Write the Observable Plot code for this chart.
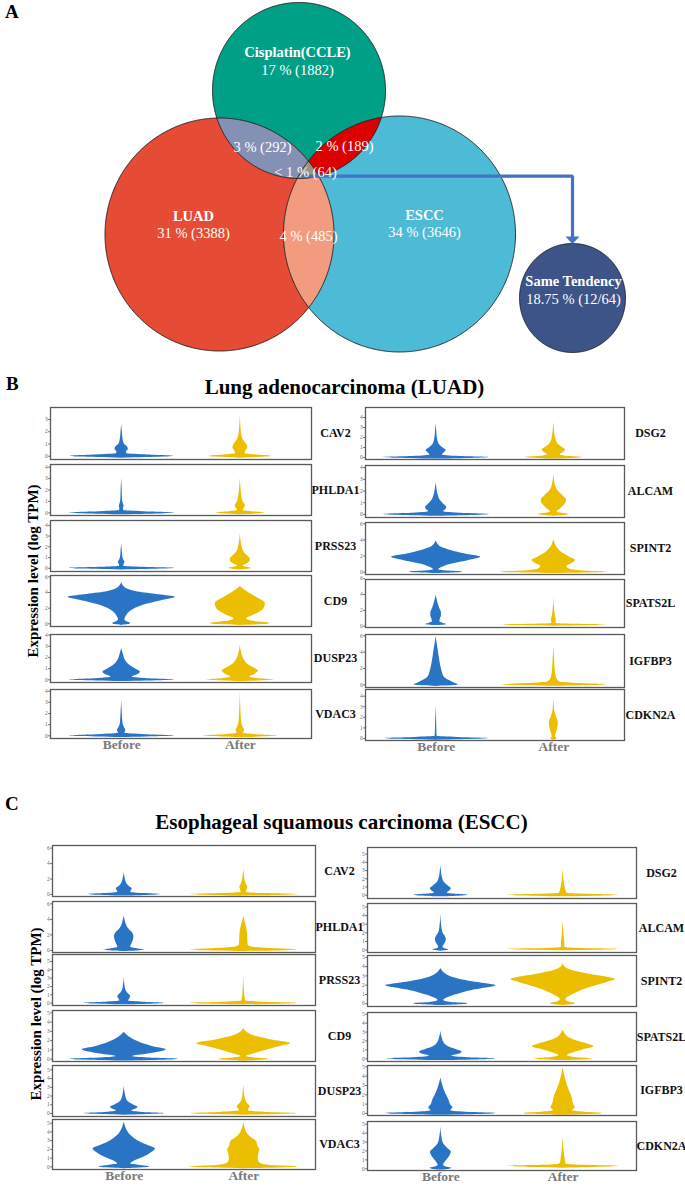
<!DOCTYPE html>
<html><head><meta charset="utf-8">
<script src="https://cdn.jsdelivr.net/npm/d3@7"></script>
<script src="https://cdn.jsdelivr.net/npm/@observablehq/plot@0.6"></script>
<style>
body{margin:0;background:#fff;}
#root{position:relative;width:685px;height:1188px;overflow:hidden;font-family:"Liberation Serif","Times New Roman",serif;color:#000;}
.abs{position:absolute;}
.letter{font-weight:bold;font-size:19px;line-height:19px;}
.title{font-weight:bold;font-size:21px;line-height:21px;width:685px;text-align:center;left:0;}
.ylab{font-weight:bold;font-size:15px;line-height:16px;width:260px;text-align:center;white-space:nowrap;transform:rotate(-90deg);}
svg{overflow:visible;}
</style></head><body><div id="root"></div>
<script>
// ---------------- DATA ----------------
const vennNames = ["Cisplatin(CCLE)", "LUAD", "ESCC"];
const vennShares = ["17 % (1882)", "31 % (3388)", "34 % (3646)"];
const overlapShares = ["3 % (292)", "2 % (189)", "4 % (485)", "< 1 % (64)"];
const tendencyName = "Same Tendency";
const tendencyShare = "18.75 % (12/64)";

const groups = ["Before", "After"];
const genesLeft = ["CAV2", "PHLDA1", "PRSS23", "CD9", "DUSP23", "VDAC3"];
const genesRight = ["DSG2", "ALCAM", "SPINT2", "SPATS2L", "IGFBP3", "CDKN2A"];
const luadTitle = "Lung adenocarcinoma (LUAD)";
const esccTitle = "Esophageal squamous carcinoma (ESCC)";
const yTitle = "Expression level (log TPM)";

// violin profiles: [expression, relative density width], genes in order genesLeft then genesRight
const luadBefore = [
 [[-0.16,0],[-0.07,0.78],[0,0.97],[0.1,0.5],[0.2,0.1],[0.35,0.09],[0.55,0.125],[0.75,0.11],[1.0,0.05],[1.4,0.025],[2.0,0.012],[2.6,0]],
 [[-0.16,0],[-0.07,0.8],[0,1.0],[0.1,0.4],[0.2,0.04],[0.4,0.035],[0.6,0.045],[0.8,0.03],[1.2,0.015],[2.0,0.01],[3.0,0]],
 [[-0.16,0],[-0.07,0.8],[0,1.0],[0.1,0.4],[0.2,0.04],[0.35,0.045],[0.55,0.063],[0.75,0.04],[1.1,0.02],[1.7,0.01],[2.3,0]],
 [[-0.2,0],[-0.1,0.12],[0.05,0.17],[0.2,0.12],[0.5,0.06],[1.0,0.09],[1.7,0.19],[2.3,0.38],[3.0,0.78],[3.4,1.0],[3.7,0.7],[4.05,0.3],[4.4,0.12],[4.7,0.05],[5.3,0]],
 [[-0.16,0],[-0.07,0.8],[0,1.0],[0.1,0.5],[0.25,0.2],[0.45,0.3],[0.7,0.35],[0.95,0.27],[1.3,0.15],[1.75,0.07],[2.2,0.035],[2.8,0]],
 [[-0.16,0],[-0.07,0.8],[0,1.0],[0.1,0.45],[0.22,0.06],[0.5,0.08],[0.75,0.05],[1.1,0.025],[2.0,0.012],[3.25,0]],
 [[-0.16,0],[-0.07,0.8],[0,1.0],[0.1,0.45],[0.25,0.12],[0.45,0.15],[0.7,0.19],[0.95,0.13],[1.3,0.06],[1.9,0.025],[2.6,0.012],[3.4,0]],
 [[-0.16,0],[-0.07,0.8],[0,1.0],[0.1,0.45],[0.25,0.14],[0.4,0.18],[0.6,0.2],[0.85,0.15],[1.2,0.08],[1.7,0.035],[2.2,0.015],[2.7,0]],
 [[-0.18,0],[-0.08,0.4],[0.03,0.5],[0.15,0.2],[0.3,0.05],[0.6,0.12],[1.0,0.3],[1.45,0.62],[1.85,0.84],[2.25,0.55],[2.7,0.28],[3.1,0.1],[3.5,0.03],[3.9,0]],
 [[0.08,0],[0.15,0.17],[0.22,0.2],[0.35,0.14],[0.55,0.07],[0.9,0.08],[1.3,0.1],[1.7,0.1],[2.2,0.07],[2.8,0.04],[3.3,0.02],[3.9,0]],
 [[-0.2,0],[-0.1,0.36],[0,0.42],[0.2,0.35],[0.5,0.26],[0.9,0.16],[1.7,0.11],[2.9,0.07],[4.2,0.04],[5.0,0.02],[5.9,0]],
 [[-0.16,0],[-0.07,0.8],[0,0.99],[0.1,0.4],[0.2,0.02],[0.5,0.015],[1.5,0.01],[3.05,0]]
];
const luadAfter = [
 [[-0.16,0],[-0.07,0.47],[0,0.58],[0.1,0.3],[0.2,0.09],[0.4,0.1],[0.7,0.14],[0.95,0.12],[1.3,0.06],[1.8,0.025],[2.5,0.01],[3.35,0]],
 [[-0.16,0],[-0.07,0.37],[0,0.46],[0.1,0.2],[0.2,0.05],[0.45,0.08],[0.65,0.095],[0.9,0.06],[1.4,0.03],[2.2,0.012],[3.0,0]],
 [[-0.16,0],[-0.07,0.17],[0,0.21],[0.1,0.12],[0.22,0.05],[0.45,0.14],[0.8,0.19],[1.1,0.15],[1.5,0.07],[2.2,0.025],[3.3,0]],
 [[-0.2,0],[-0.1,0.45],[0.05,0.56],[0.2,0.4],[0.45,0.15],[0.65,0.12],[1.0,0.22],[1.3,0.31],[1.9,0.44],[2.6,0.47],[3.1,0.38],[3.4,0.3],[4.0,0.15],[4.4,0.06],[4.75,0]],
 [[-0.16,0],[-0.07,0.5],[0,0.63],[0.1,0.35],[0.25,0.18],[0.5,0.28],[0.78,0.34],[1.05,0.26],[1.4,0.14],[1.9,0.06],[2.4,0.025],[3.1,0]],
 [[-0.16,0],[-0.07,0.56],[0,0.7],[0.1,0.3],[0.22,0.06],[0.5,0.08],[0.8,0.05],[1.2,0.025],[2.2,0.012],[4.0,0]],
 [[-0.16,0],[-0.07,0.43],[0,0.54],[0.1,0.3],[0.25,0.12],[0.5,0.18],[0.75,0.22],[1.0,0.16],[1.4,0.07],[2.0,0.03],[2.7,0.012],[3.5,0]],
 [[-0.16,0],[-0.07,0.23],[0,0.29],[0.1,0.15],[0.22,0.06],[0.45,0.12],[0.8,0.2],[1.2,0.24],[1.6,0.17],[2.0,0.08],[2.5,0.03],[3.5,0]],
 [[-0.18,0],[-0.08,0.8],[0,1.0],[0.15,0.55],[0.35,0.3],[0.7,0.25],[1.1,0.35],[1.45,0.41],[1.85,0.3],[2.3,0.18],[2.9,0.08],[3.5,0.025],[4.1,0]],
 [[0.0,0],[0.09,0.8],[0.17,1.0],[0.25,0.4],[0.35,0.04],[0.8,0.045],[1.3,0.03],[2.0,0.015],[3.7,0]],
 [[-0.18,0],[-0.08,0.8],[0,1.0],[0.15,0.5],[0.35,0.12],[0.7,0.06],[1.5,0.03],[3.0,0.015],[4.65,0]],
 [[-0.15,0],[-0.07,0.05],[0,0.06],[0.15,0.03],[0.4,0.04],[0.9,0.07],[1.5,0.085],[1.9,0.06],[2.4,0.025],[3.0,0.01],[3.8,0]]
];
const esccBefore = [
 [[-0.2,0],[-0.09,0.54],[0,0.67],[0.12,0.35],[0.25,0.12],[0.5,0.13],[0.75,0.15],[1.0,0.1],[1.4,0.05],[2.0,0.02],[2.9,0]],
 [[-0.12,0],[-0.02,0.3],[0.08,0.38],[0.2,0.25],[0.4,0.12],[0.8,0.14],[1.3,0.17],[1.8,0.18],[2.3,0.15],[2.8,0.08],[3.3,0.04],[3.8,0.02],[4.4,0]],
 [[-0.2,0],[-0.09,0.6],[0,0.74],[0.12,0.35],[0.25,0.08],[0.5,0.1],[0.8,0.12],[1.1,0.08],[1.5,0.035],[2.2,0.012],[3.2,0]],
 [[-0.2,0],[-0.09,0.8],[0,1.0],[0.12,0.45],[0.28,0.15],[0.55,0.45],[0.9,0.75],[1.05,0.78],[1.3,0.58],[1.65,0.37],[2.1,0.18],[2.5,0.07],[2.9,0]],
 [[-0.2,0],[-0.09,0.6],[0,0.75],[0.12,0.35],[0.28,0.14],[0.5,0.22],[0.7,0.26],[0.95,0.18],[1.3,0.08],[1.8,0.035],[2.4,0.015],[3.1,0]],
 [[-0.2,0],[-0.09,0.38],[0,0.47],[0.15,0.3],[0.35,0.12],[0.6,0.17],[1.1,0.36],[1.6,0.5],[2.05,0.58],[2.5,0.42],[3.0,0.25],[3.5,0.14],[4.0,0.07],[4.5,0.03],[5.1,0]],
 [[-0.2,0],[-0.09,0.4],[0,0.49],[0.12,0.3],[0.25,0.12],[0.5,0.16],[0.8,0.19],[1.1,0.14],[1.5,0.07],[2.1,0.03],[2.8,0.012],[3.6,0]],
 [[-0.12,0],[-0.04,0.11],[0.03,0.14],[0.15,0.07],[0.35,0.04],[0.7,0.07],[1.2,0.1],[1.6,0.08],[2.0,0.04],[2.8,0.015],[4.15,0]],
 [[-0.2,0],[-0.09,0.4],[0,0.49],[0.12,0.2],[0.35,0.05],[0.7,0.15],[1.1,0.36],[1.5,0.62],[1.95,1.0],[2.2,0.75],[2.5,0.45],[3.0,0.15],[3.4,0.05],[3.8,0]],
 [[-0.2,0],[-0.09,0.8],[0,1.0],[0.12,0.5],[0.28,0.2],[0.5,0.32],[0.75,0.39],[1.0,0.3],[1.3,0.16],[1.7,0.07],[2.3,0.025],[3.1,0]],
 [[-0.2,0],[-0.09,0.8],[0,1.0],[0.12,0.45],[0.28,0.18],[0.6,0.22],[0.9,0.18],[1.4,0.15],[2.1,0.09],[2.8,0.045],[3.8,0]],
 [[-0.14,0],[-0.04,0.16],[0.05,0.2],[0.2,0.1],[0.4,0.05],[0.9,0.1],[1.5,0.17],[1.85,0.19],[2.3,0.12],[2.8,0.05],[3.5,0.02],[4.7,0]]
];
const esccAfter = [
 [[-0.2,0],[-0.09,0.8],[0,1.0],[0.12,0.4],[0.25,0.05],[0.6,0.06],[0.95,0.075],[1.3,0.05],[1.8,0.025],[2.5,0.012],[3.2,0]],
 [[-0.12,0],[-0.02,0.8],[0.08,1.0],[0.25,0.5],[0.45,0.15],[0.7,0.08],[1.5,0.075],[2.2,0.07],[3.0,0.05],[3.8,0.02],[4.4,0]],
 [[-0.2,0],[-0.09,0.8],[0,1.0],[0.12,0.35],[0.25,0.04],[0.6,0.025],[1.2,0.015],[2.0,0.008],[3.2,0]],
 [[-0.2,0],[-0.09,0.37],[0,0.46],[0.12,0.2],[0.28,0.05],[0.5,0.15],[0.8,0.32],[1.3,0.62],[1.7,0.87],[2.05,0.55],[2.5,0.2],[2.9,0.06],[3.3,0]],
 [[-0.2,0],[-0.09,0.8],[0,1.0],[0.12,0.45],[0.3,0.08],[0.55,0.1],[0.8,0.12],[1.05,0.08],[1.5,0.035],[2.2,0.015],[3.3,0]],
 [[-0.2,0],[-0.09,0.8],[0,1.0],[0.12,0.6],[0.3,0.35],[0.6,0.28],[1.0,0.27],[1.5,0.28],[1.9,0.3],[2.4,0.26],[2.9,0.24],[3.3,0.15],[3.8,0.07],[4.4,0.025],[5.1,0]],
 [[-0.2,0],[-0.09,0.8],[0,1.0],[0.12,0.45],[0.25,0.07],[0.6,0.05],[1.0,0.035],[1.6,0.02],[2.3,0.01],[3.1,0]],
 [[-0.06,0],[0.03,0.8],[0.12,1.0],[0.2,0.3],[0.3,0.03],[0.8,0.03],[1.5,0.02],[2.3,0.01],[3.4,0]],
 [[-0.2,0],[-0.09,0.19],[0,0.23],[0.15,0.12],[0.45,0.05],[0.8,0.12],[1.25,0.27],[1.8,0.52],[2.3,0.8],[2.6,0.95],[2.9,0.75],[3.2,0.45],[3.6,0.15],[3.9,0.05],[4.35,0]],
 [[-0.2,0],[-0.09,0.43],[0,0.53],[0.12,0.25],[0.35,0.08],[0.7,0.2],[1.0,0.36],[1.35,0.56],[1.6,0.47],[1.9,0.3],[2.4,0.1],[2.8,0.035],[3.2,0]],
 [[-0.2,0],[-0.09,0.57],[0,0.71],[0.12,0.4],[0.28,0.17],[0.6,0.22],[1.0,0.19],[1.8,0.16],[2.8,0.09],[3.9,0.035],[4.9,0]],
 [[0.06,0],[0.2,0.8],[0.3,1.0],[0.4,0.35],[0.55,0.05],[1.0,0.04],[1.6,0.025],[2.4,0.012],[3.5,0]]
];
// y-axis extents and top tick per gene
const luadDomains = [[-0.27,3.98],[-0.23,4.23],[-0.3,4.45],[-0.34,6.17],[-0.24,4.05],[-0.24,4.15],[-0.2,5.0],[-0.26,4.18],[-0.29,6.16],[-0.17,5.9],[-0.33,6.16],[-0.19,4.63]];
const esccDomains = [[-0.26,6.34],[-0.26,6.3],[-0.28,5.83],[-0.25,5.25],[-0.35,5.5],[-0.3,5.42],[-0.4,5.8],[-0.27,5.4],[-0.3,5.2],[-0.3,5.19],[-0.22,5.14],[-0.19,5.3]];
const luadTickMax = [3,4,4,6,4,4,4,4,6,6,6,4];
const esccTickMax = [6,6,5,5,5,5,5,5,5,5,5,5];

// ---------------- LAYOUT / STYLE ----------------
const FONT = "Liberation Serif, Times New Roman, serif";
const groupColors = ["#2A74C6", "#EBBE00"];
const vennFills = ["#00A087", "#E64B35", "#4DBBD5"];
const overlapFills = ["#8491B4", "#DC0000", "#F39B7F", "#9B9584"];
const tendencyFill = "#3C5488";
const arrowColor = "#4472C4";
const vennGeom = [{cx:298.5, cy:90, rx:86.5, ry:88}, {cx:219, cy:234, rx:114.5, ry:116.5}, {cx:399, cy:233.5, rx:116, ry:118}];
const tendencyGeom = {cx:572, cy:297.5, rx:53, ry:54.5};
const nameAt = [[297,51.5],[193,216],[424,215]];
const shareAt = [[297,69.5],[193,233],[424,232]];
const overlapAt = [[262,146.5],[344,146],[308,236],[305,171.5]];
const tendencyAt = [[573,281],[573,298.5]];
const arrowPath = [[302,175.7],[572,175.7],[572,237]];
const arrowHead = [[565,236],[579,236],[572,243.5]];

const columns = {
 luadL: {x:[50,311], tops:[407,464,520,575,634,689], bottoms:[459,515,571,626,682,738], dx:24},
 luadR: {x:[365,624], tops:[407,465,522,579,634,689], bottoms:[459,517,574,627,687,740], dx:26},
 esccL: {x:[52,315], tops:[845,901,954,1010,1065,1119], bottoms:[896,952,1005,1061,1116,1169], dx:24},
 esccR: {x:[367,636], tops:[847,903,955,1012,1065,1121], bottoms:[898,952,1006,1061,1115,1170], dx:25}
};

const root = document.getElementById("root");
function place(node, left, top) {
  node.style.position = "absolute"; node.style.left = left + "px"; node.style.top = top + "px";
  root.appendChild(node);
}
function div(cls, text, left, top) {
  const d = document.createElement("div"); d.className = "abs " + cls; d.textContent = text;
  d.style.left = left + "px"; d.style.top = top + "px"; root.appendChild(d); return d;
}

// ---------------- VENN ----------------
function ellipsePts(e) {
  return d3.range(0, 360, 0.5).map(a => [e.cx + e.rx * Math.cos(a * Math.PI / 180), e.cy + e.ry * Math.sin(a * Math.PI / 180)]);
}
function inside(e, p) { const dx = (p[0] - e.cx) / e.rx, dy = (p[1] - e.cy) / e.ry; return dx*dx + dy*dy <= 1; }
function intersect(ids) {
  const pts = [];
  ids.forEach(i => ellipsePts(vennGeom[i]).forEach(p => { if (ids.every(j => j === i || inside(vennGeom[j], p))) pts.push(p); }));
  return d3.polygonHull(pts);
}
const overlapSets = [[0,1],[0,2],[1,2],[0,1,2]];
const vennMarks = [];
vennGeom.forEach((e, i) => vennMarks.push(Plot.line(ellipsePts(e), {curve:"linear-closed", fill: vennFills[i], stroke:"none"})));
overlapSets.forEach((s, i) => { const h = intersect(s); if (h) vennMarks.push(Plot.line(h, {curve:"linear-closed", fill: overlapFills[i], stroke:"none"})); });
vennGeom.forEach(e => vennMarks.push(Plot.line(ellipsePts(e), {curve:"linear-closed", stroke:"#1a1a1a", strokeWidth:0.9})));
vennMarks.push(Plot.line(ellipsePts(tendencyGeom), {curve:"linear-closed", fill: tendencyFill, stroke:"#1a1a1a", strokeWidth:0.9}));
vennMarks.push(Plot.line(arrowPath, {stroke: arrowColor, strokeWidth:3.2, strokeLinejoin:"miter"}));
vennMarks.push(Plot.line(arrowHead, {curve:"linear-closed", fill: arrowColor, stroke:"none"}));
const nameLabels = vennNames.map((t, i) => ({t, x: nameAt[i][0], y: nameAt[i][1]})).concat([{t: tendencyName, x: tendencyAt[0][0], y: tendencyAt[0][1]}]);
const shareLabels = vennShares.map((t, i) => ({t, x: shareAt[i][0], y: shareAt[i][1]}))
  .concat(overlapShares.map((t, i) => ({t, x: overlapAt[i][0], y: overlapAt[i][1]})))
  .concat([{t: tendencyShare, x: tendencyAt[1][0], y: tendencyAt[1][1]}]);
vennMarks.push(Plot.text(nameLabels, {x:"x", y:"y", text:"t", fill:"white", fontSize:14.5, fontWeight:"bold"}));
vennMarks.push(Plot.text(shareLabels, {x:"x", y:"y", text:"t", fill:"white", fontSize:14.5}));

const venn = Plot.plot({
  width: 685, height: 362, margin: 0,
  x: {domain: [0, 685], axis: null}, y: {domain: [0, 362], range: [0, 362], axis: null},
  style: {fontFamily: FONT, background: "transparent"},
  marks: vennMarks
});
place(venn, 0, 0);

// ---------------- VIOLINS ----------------
function violinPanel(col, row, gene, before, after, dom, tmax, isBottom) {
  const c = columns[col];
  const W = c.x[1] - c.x[0], H = c.bottoms[row] - c.tops[row];
  const mL = 10, mR = 70, mT = 1, mB = isBottom ? 26 : 1;
  const rows = [];
  [before, after].forEach((prof, g) => prof.forEach(([y, w]) => rows.push({group: groups[g], y, x1: g + 1 - w * 0.45, x2: g + 1 + w * 0.45})));
  const step = tmax === 6 ? 2 : 1;
  const ticks = d3.range(0, tmax + 0.001, step);
  const marks = [
    Plot.areaX(rows, {y: "y", x1: "x1", x2: "x2", fill: "group", z: "group", curve: "monotone-y"}),
    Plot.frame({stroke: "#5a5a5a", strokeWidth: 1.3}),
    Plot.axisY(ticks, {tickSize: 1.8, tickPadding: 1, fontSize: 5.5, color: "#666", label: null}),
    Plot.text([gene], {text: d => d, frameAnchor: "right", dx: c.dx, fontWeight: "bold", fontSize: 12, textAnchor: "middle", fill: "#111"})
  ];
  if (isBottom) marks.push(Plot.text(groups, {x: (d, i) => i + 1, text: d => d, frameAnchor: "bottom", dy: 10.5, fontWeight: "bold", fontSize: 13.5, fill: "#7a7a7a"}));
  const p = Plot.plot({
    width: W + mL + mR, height: H + mT + mB,
    marginLeft: mL, marginRight: mR, marginTop: mT, marginBottom: mB,
    x: {domain: [0.4, 2.6], axis: null},
    y: {domain: dom, label: null},
    color: {domain: groups, range: groupColors},
    style: {fontFamily: FONT, background: "transparent"},
    marks
  });
  place(p, c.x[0] - mL, c.tops[row] - mT);
}
for (let i = 0; i < 6; i++) {
  violinPanel("luadL", i, genesLeft[i], luadBefore[i], luadAfter[i], luadDomains[i], luadTickMax[i], i === 5);
  violinPanel("luadR", i, genesRight[i], luadBefore[i + 6], luadAfter[i + 6], luadDomains[i + 6], luadTickMax[i + 6], i === 5);
  violinPanel("esccL", i, genesLeft[i], esccBefore[i], esccAfter[i], esccDomains[i], esccTickMax[i], i === 5);
  violinPanel("esccR", i, genesRight[i], esccBefore[i + 6], esccAfter[i + 6], esccDomains[i + 6], esccTickMax[i + 6], i === 5);
}

// ---------------- TEXT ----------------
div("letter", "A", 5, 2);
div("letter", "B", 6, 374);
div("letter", "C", 5, 794);
div("title", luadTitle, 0, 377).style.left = "2px";
div("title", esccTitle, 0, 812).style.left = "-1px";
div("ylab", yTitle, 33 - 130, 571 - 8);
div("ylab", yTitle, 36 - 130, 1014 - 8);
</script></body></html>
